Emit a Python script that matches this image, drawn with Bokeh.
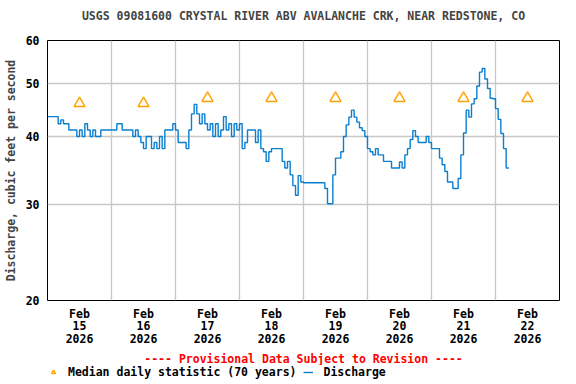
from bokeh.plotting import figure
from bokeh.layouts import column
from bokeh.models import Range1d, FixedTicker, NumeralTickFormatter, Legend, LegendItem, Title
from bokeh.embed import file_html
from bokeh.resources import INLINE

chart_title = "USGS 09081600 CRYSTAL RIVER ABV AVALANCHE CRK, NEAR REDSTONE, CO"
y_title = "Discharge, cubic feet per second"
provisional = "---- Provisional Data Subject to Revision ----"

day_labels = ["Feb\n15\n2026", "Feb\n16\n2026", "Feb\n17\n2026", "Feb\n18\n2026",
              "Feb\n19\n2026", "Feb\n20\n2026", "Feb\n21\n2026", "Feb\n22\n2026"]
y_ticks = [20, 30, 40, 50, 60]

# median daily statistic (one per day, plotted at noon)
median_cfs = [46, 46, 47, 47, 47, 47, 47, 47]

# discharge, hourly from Feb 15 00:00
discharge_cfs = [
    43.5, 43.5, 43.5, 43.5, 42.2, 42.9, 42.2, 42.2, 41.1, 41.1,
    41.1, 40.0, 41.1, 40.0, 42.2, 41.1, 40.0, 41.1, 40.0, 40.0,
    41.1, 41.1, 41.1, 41.1, 41.1, 41.1, 42.2, 42.2, 41.1, 41.1,
    41.1, 41.1, 40.0, 41.1, 40.0, 39.0, 38.0, 40.0, 40.0, 38.0,
    39.0, 38.0, 40.0, 38.0, 41.1, 41.1, 41.1, 42.2, 41.1, 39.0,
    39.0, 39.0, 38.0, 41.1, 44.0, 45.8, 44.0, 42.2, 44.0, 42.2,
    41.1, 42.2, 40.0, 42.2, 40.0, 41.1, 43.5, 41.1, 42.2, 40.0,
    42.2, 41.1, 42.2, 38.0, 39.0, 41.1, 41.1, 41.1, 39.0, 41.1,
    38.0, 37.5, 36.0, 37.5, 38.0, 38.0, 38.0, 38.0, 36.0, 35.0,
    36.0, 34.0, 32.5, 31.2, 33.9, 33.0, 32.9, 32.9, 32.9, 32.9,
    32.9, 32.9, 32.9, 32.9, 32.1, 30.1, 30.1, 34.0, 36.5, 36.5,
    37.5, 40.0, 42.0, 43.4, 44.7, 43.4, 42.5, 41.5, 41.0, 40.0,
    38.0, 37.5, 37.0, 38.0, 37.0, 37.0, 36.0, 36.0, 36.0, 35.0,
    35.0, 35.0, 35.9, 35.0, 37.0, 38.0, 39.5, 41.0, 40.0, 39.0,
    39.0, 39.0, 40.0, 39.0, 38.0, 38.0, 38.0, 36.5, 35.5, 34.5,
    33.0, 33.0, 32.1, 32.1, 33.5, 37.0, 40.6, 44.7, 43.4, 45.9,
    46.9, 49.5, 52.5, 53.3, 51.0, 49.0, 47.0, 46.9, 45.0, 43.0,
    40.5, 38.0, 35.0, 35.0,
]

hours = list(range(len(discharge_cfs)))
n_days = len(day_labels)
noon_hours = [24 * i + 12 for i in range(n_days)]
midnight_hours = [24 * i for i in range(1, n_days)]

FONT = "DejaVu Sans Mono"
FS = "11.5px"
BLUE = "#0a7fcf"
ORANGE = "#ffa200"

p = figure(frame_width=512, frame_height=260, title=None,
           x_range=Range1d(0, 24 * n_days), y_range=Range1d(20, 60),
           y_axis_type="log", output_backend="svg", toolbar_location=None,
           min_border_left=36, min_border_right=12, min_border_top=0,
           min_border_bottom=0)

# spacer (top), then the title right above the frame
p.add_layout(Title(text=" ", text_font_size="8px", standoff=0), "above")
p.add_layout(Title(text=chart_title, align="center", text_font=FONT,
                   text_font_style="bold", text_font_size=FS,
                   standoff=13, offset=-2), "above")

p.outline_line_color = "black"
p.outline_line_width = 1
p.outline_line_alpha = 1

for ax in (p.xaxis[0], p.yaxis[0]):
    ax.axis_line_color = None
    ax.major_tick_in = 0
    ax.major_tick_out = 0
    ax.minor_tick_line_color = None
    ax.major_tick_line_color = None
    ax.major_label_text_font = FONT
    ax.major_label_text_font_style = "bold"
    ax.major_label_text_font_size = FS
    ax.major_label_text_color = "black"

p.yaxis.ticker = FixedTicker(ticks=y_ticks)
p.yaxis.formatter = NumeralTickFormatter(format="0")
p.yaxis.major_label_standoff = 8
p.yaxis.axis_label = y_title
p.yaxis.axis_label_text_font = FONT
p.yaxis.axis_label_text_font_style = "bold"
p.yaxis.axis_label_text_font_size = FS
p.yaxis.axis_label_standoff = 5

p.xaxis.ticker = FixedTicker(ticks=noon_hours)
p.xaxis.major_label_overrides = {h: lab for h, lab in zip(noon_hours, day_labels)}
p.xaxis.major_label_standoff = 6
p.xaxis.major_label_text_line_height = 0.92

p.xgrid.ticker = FixedTicker(ticks=midnight_hours)
p.ygrid.ticker = FixedTicker(ticks=y_ticks[1:-1])
for g in (p.xgrid[0], p.ygrid[0]):
    g.grid_line_color = "#c8c8c8"
    g.grid_line_width = 1.3

p.step(hours, discharge_cfs, mode="after", line_color=BLUE, line_width=1.4)
p.scatter(noon_hours, median_cfs, marker="triangle", size=11,
          fill_color=None, line_color=ORANGE, line_width=1.4)

p.add_layout(Title(text=provisional, align="center", text_color="red",
                   text_font=FONT, text_font_style="bold", text_font_size=FS,
                   standoff=0, offset=-2), "below")

# legend row underneath (key renderers reuse the data; they fall outside this strip's ranges)
k = figure(width=560, height=16, x_range=Range1d(0, 1), y_range=Range1d(0, 1),
           title=None, x_axis_location=None, y_axis_location=None,
           output_backend="svg", toolbar_location=None, min_border=0)
k.outline_line_color = None
k.grid.visible = False
key_tri = k.scatter(noon_hours, median_cfs, marker="triangle", size=11,
                    fill_color=None, line_color=ORANGE, line_width=1.4)
key_line = k.step(hours, discharge_cfs, mode="after", line_color=BLUE, line_width=1.4)
legend = Legend(items=[LegendItem(label="Median daily statistic (70 years)", renderers=[key_tri]),
                       LegendItem(label="Discharge", renderers=[key_line])],
                orientation="horizontal", location=(1, 2),
                border_line_color=None, background_fill_alpha=0,
                padding=0, margin=0, spacing=7, label_standoff=10,
                glyph_width=10, glyph_height=12, label_height=12,
                label_text_font=FONT, label_text_font_style="bold",
                label_text_font_size=FS, label_text_color="black")
k.add_layout(legend, "center")

layout = column(p, k, spacing=0)
open("out.html", "w").write(file_html(layout, INLINE))
